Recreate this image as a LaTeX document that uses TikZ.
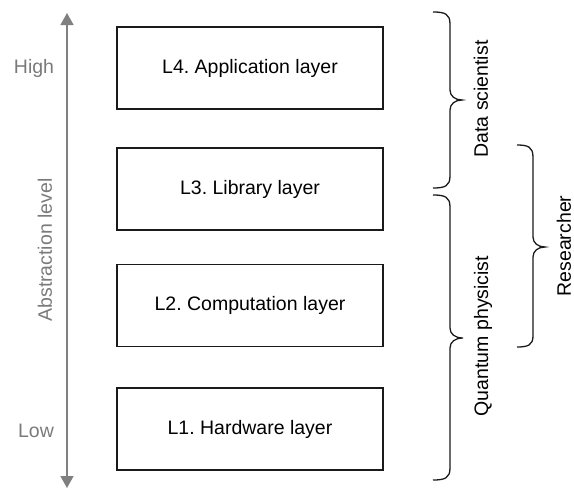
\documentclass[tikz,border=0pt]{standalone}
\usepackage{fontspec}
\setmainfont{Liberation Sans}
\usetikzlibrary{arrows.meta}
\definecolor{axisgray}{HTML}{808080}
\definecolor{labelgray}{HTML}{7A7A7A}
\definecolor{ink}{HTML}{1A1A1A}
\frenchspacing
\begin{document}
\begin{tikzpicture}[x=1pt,y=-1pt,
  layerbox/.style={draw=ink,line width=1.3pt,minimum width=266pt,minimum height=82pt,inner sep=0pt,
    font=\fontsize{19.5}{23}\selectfont,text=black},
  glabel/.style={font=\fontsize{19.5}{23}\selectfont,text=labelgray,inner sep=0pt},
  rlabel/.style={font=\fontsize{19.5}{23}\selectfont,text=black,inner sep=0pt,rotate=90},
  bracepath/.style={draw=ink,line width=1.3pt},
  axisline/.style={draw=axisgray,line width=1.6pt,{Triangle[length=12pt,width=13pt]}-{Triangle[length=12pt,width=13pt]}}]
\useasboundingbox (0,0) rectangle (574,491);
% layers
\node[layerbox] (l4) at (250,68) {L4. Application layer};
\node[layerbox] (l3) at (250,189) {L3. Library layer};
\node[layerbox] (l2) at (250,305.5) {L2. Computation layer};
\node[layerbox] (l1) at (250,429) {L1. Hardware layer};
% axis
\coordinate (atop) at (67,13);
\coordinate (abot) at (67,488);
\draw[axisline] (abot) -- (atop);
\node[glabel] (high) at (34,68) {High};
\node[glabel] (low) at (36,431) {Low};
\node[glabel,rotate=90] (abs) at (45,250) {Abstraction level};
% Data scientist brace
\draw[bracepath] (433,12) .. controls (445,12) and (450,14) .. (450,24) -- (450,90)
  .. controls (450,96) and (455,100) .. (462,100)
  .. controls (455,100) and (450,104) .. (450,110) -- (450,176)
  .. controls (450,186) and (445,188) .. (433,188);
\node[rlabel] (ds) at (481,99) {Data scientist};
% Quantum physicist brace
\draw[bracepath] (433,195) .. controls (445,195) and (450,197) .. (450,207) -- (450,328)
  .. controls (450,334) and (455,338) .. (463,338)
  .. controls (455,338) and (450,342) .. (450,348) -- (450,468)
  .. controls (450,478) and (445,480) .. (433,480);
\node[rlabel] (qp) at (483,336) {Quantum physicist};
% Researcher brace
\draw[bracepath] (517,145) .. controls (528,145) and (533,147) .. (533,157) -- (533,237)
  .. controls (533,243) and (538,247) .. (545,247)
  .. controls (538,247) and (533,251) .. (533,257) -- (533,336)
  .. controls (533,345) and (528,347) .. (517,347);
\node[rlabel] (rs) at (564,246) {Researcher};
\end{tikzpicture}
\end{document}
